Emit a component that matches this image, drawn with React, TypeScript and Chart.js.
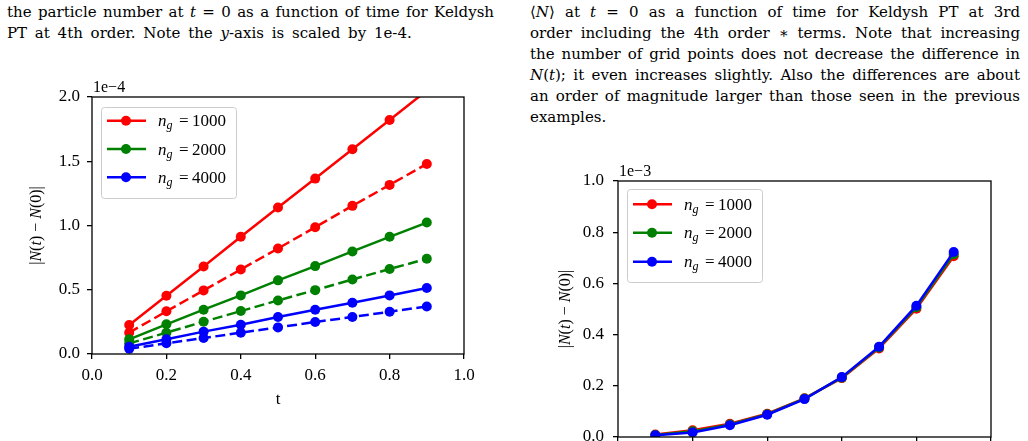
import React, { useEffect, useRef } from "react";
import { Chart, registerables } from "chart.js";

Chart.register(...registerables);

// ---------- data ----------
const tValues = [0.1, 0.2, 0.3, 0.4, 0.5, 0.6, 0.7, 0.8, 0.9];
const xTicks = [0, 0.2, 0.4, 0.6, 0.8, 1.0];
const leftYTicks = [0, 0.5, 1.0, 1.5, 2.0];
const rightYTicks = [0, 0.2, 0.4, 0.6, 0.8, 1.0];
const legendLabels = ["1000", "2000", "4000"];

// left chart, values in units of 1e-4
const redSolidLeft = [0.225, 0.453, 0.681, 0.912, 1.14, 1.365, 1.593, 1.821, 2.05];
const redDashedLeft = [0.166, 0.332, 0.495, 0.658, 0.821, 0.987, 1.153, 1.316, 1.479];
const greenSolidLeft = [0.114, 0.231, 0.345, 0.456, 0.573, 0.684, 0.798, 0.912, 1.023];
const greenDashedLeft = [0.083, 0.166, 0.251, 0.334, 0.417, 0.497, 0.58, 0.661, 0.741];
const blueSolidLeft = [0.057, 0.114, 0.174, 0.228, 0.288, 0.345, 0.399, 0.456, 0.513];
const blueDashedLeft = [0.041, 0.083, 0.124, 0.166, 0.207, 0.249, 0.288, 0.329, 0.37];

// right chart, values in units of 1e-3
const redRight = [0.01, 0.026, 0.052, 0.091, 0.151, 0.23, 0.346, 0.501, 0.706];
const greenRight = [0.008, 0.022, 0.049, 0.089, 0.15, 0.232, 0.35, 0.507, 0.714];
const blueRight = [0.0065, 0.018, 0.046, 0.087, 0.148, 0.234, 0.353, 0.513, 0.723];

const RED = "#ff0000";
const GREEN = "#008000";
const BLUE = "#0000ff";
const COLORS = [RED, GREEN, BLUE];

const FONT = '"Liberation Serif", "Times New Roman", serif';

// ---------- helpers ----------
type Seg = { t: string; i?: boolean; s?: number; dy?: number; x?: number };

function fontStr(size: number, italic = false) {
  return `${italic ? "italic " : ""}${size}px ${FONT}`;
}

function drawSegs(ctx: CanvasRenderingContext2D, segs: Seg[], x: number, y: number, base: number, align: "left" | "center") {
  const widths = segs.map((s) => {
    ctx.font = fontStr(s.s ?? base, !!s.i);
    return ctx.measureText(s.t).width;
  });
  const total = widths.reduce((a, b) => a + b, 0);
  let cx = align === "center" ? x - total / 2 : x;
  ctx.textAlign = "left";
  ctx.textBaseline = "alphabetic";
  segs.forEach((s, k) => {
    ctx.font = fontStr(s.s ?? base, !!s.i);
    const px = s.x !== undefined ? x + s.x : cx;
    ctx.fillText(s.t, px, y + (s.dy ?? 0));
    cx = px + widths[k];
  });
}

const yLabelSegs: Seg[] = [
  { t: "|" },
  { t: "N", i: true },
  { t: "(" },
  { t: "t", i: true },
  { t: ")" },
  { t: " \u2212 " },
  { t: "N", i: true },
  { t: "(0)|" },
];

const decorPlugin = {
  id: "decor",
  afterDraw(chart: any, _args: any, opts: any) {
    const { ctx, chartArea: a } = chart;
    ctx.save();
    // frame (all four spines)
    ctx.strokeStyle = "#000";
    ctx.lineWidth = 1.3;
    ctx.strokeRect(a.left, a.top, a.right - a.left, a.bottom - a.top);

    // offset text
    ctx.fillStyle = "#000";
    drawSegs(ctx, [{ t: opts.offsetText }], a.left + 1, a.top - 5.5, 16, "left");

    // y label
    ctx.save();
    ctx.translate(opts.yLabelX, (a.top + a.bottom) / 2);
    ctx.rotate(-Math.PI / 2);
    drawSegs(ctx, yLabelSegs, 0, 0, 16, "center");
    ctx.restore();

    // legend
    const L = opts.legend;
    const bx = a.left + L.dx;
    const by = a.top + L.dy;
    ctx.beginPath();
    (ctx as any).roundRect(bx + 0.5, by + 0.5, L.w, L.h, 3);
    ctx.fillStyle = "rgba(255,255,255,0.8)";
    ctx.fill();
    ctx.strokeStyle = "#cccccc";
    ctx.lineWidth = 1;
    ctx.stroke();
    L.labels.forEach((lab: string, k: number) => {
      const ry = by + L.rows[k];
      const col = COLORS[k];
      ctx.strokeStyle = col;
      ctx.lineWidth = 2.5;
      ctx.setLineDash([]);
      ctx.beginPath();
      ctx.moveTo(bx + 6, ry);
      ctx.lineTo(bx + 45, ry);
      ctx.stroke();
      ctx.fillStyle = col;
      ctx.beginPath();
      ctx.arc(bx + 25, ry, 5, 0, Math.PI * 2);
      ctx.fill();
      ctx.fillStyle = "#000";
      drawSegs(
        ctx,
        [
          { t: "n", i: true, s: 17, x: 0 },
          { t: "g", i: true, s: 12, dy: 3, x: 8.5 },
          { t: "=", s: 17, x: 21 },
          { t: lab, s: 17, x: 34 },
        ],
        bx + 57,
        ry + 5.5,
        17,
        "left"
      );
    });
    ctx.restore();
  },
};

function pts(arr: number[]) {
  return tValues.map((t, i) => ({ x: t, y: arr[i] }));
}

function ds(arr: number[], color: string, dashed: boolean, order: number) {
  return {
    data: pts(arr),
    borderColor: color,
    backgroundColor: color,
    borderWidth: 2.5,
    borderDash: dashed ? [10, 4.5] : [],
    pointRadius: 5,
    pointBorderWidth: 0,
    pointBackgroundColor: color,
    pointHoverRadius: 5,
    tension: 0,
    fill: false,
    clip: 0,
    order,
  };
}

function axisCommon(ticksArr: number[], min: number, max: number, size: number, pad: number, isX: boolean, title?: any) {
  return {
    type: "linear",
    min,
    max,
    afterBuildTicks: (ax: any) => {
      ax.ticks = ticksArr.map((v) => ({ value: v }));
    },
    afterFit: (ax: any) => {
      if (isX) ax.height = size;
      else ax.width = size;
    },
    grid: { drawOnChartArea: false, drawTicks: true, tickLength: 5, color: "#000", lineWidth: 1.3 },
    border: { display: false },
    ticks: {
      color: "#000",
      font: { size: 17, family: FONT },
      padding: pad,
      autoSkip: false,
      maxRotation: 0,
      callback: (v: any) => Number(v).toFixed(1),
    },
    title: title ?? { display: false },
  };
}

function makeConfig(datasets: any[], yTicks: number[], yMax: number, yWidth: number, yPad: number, xHeight: number, xTitlePad: number, padding: any, decor: any) {
  return {
    type: "line",
    data: { datasets },
    options: {
      animation: false,
      responsive: false,
      devicePixelRatio: 1,
      events: [],
      layout: { padding },
      plugins: {
        legend: { display: false },
        tooltip: { enabled: false },
        decor,
      },
      scales: {
        x: axisCommon(xTicks, 0, 1, xHeight, 6, true, {
          display: true,
          text: "t",
          color: "#000",
          font: { size: 17, family: FONT },
          padding: { top: 0, bottom: xTitlePad },
        }),
        y: axisCommon(yTicks, 0, yMax, yWidth, yPad, false),
      },
    },
    plugins: [decorPlugin],
  } as any;
}

function ChartCanvas({ config, width, height, left, top }: any) {
  const ref = useRef<HTMLCanvasElement | null>(null);
  useEffect(() => {
    if (!ref.current) return;
    const chart = new Chart(ref.current, config);
    let alive = true;
    const fs: any = (document as any).fonts;
    if (fs && fs.load) {
      Promise.all([
        fs.load('17px "Liberation Serif"'),
        fs.load('italic 17px "Liberation Serif"'),
      ])
        .then(() => {
          if (alive) chart.update();
        })
        .catch(() => {});
    }
    return () => {
      alive = false;
      chart.destroy();
    };
  }, []);
  return (
    <div style={{ position: "absolute", left, top, width, height }}>
      <canvas ref={ref} width={width} height={height} style={{ width, height, display: "block" }} />
    </div>
  );
}

const leftConfig = makeConfig(
  [
    ds(redSolidLeft, RED, false, 6),
    ds(redDashedLeft, RED, true, 5),
    ds(greenSolidLeft, GREEN, false, 4),
    ds(greenDashedLeft, GREEN, true, 3),
    ds(blueSolidLeft, BLUE, false, 2),
    ds(blueDashedLeft, BLUE, true, 1),
  ],
  leftYTicks,
  2,
  92,
  7,
  87,
  31,
  { left: 0, top: 37, right: 56, bottom: 0 },
  {
    offsetText: "1e\u22124",
    yLabelX: 41,
    legend: { dx: 9, dy: 10, w: 135, h: 91, rows: [13.7, 42, 70.3], labels: legendLabels },
  }
);

const rightConfig = makeConfig(
  [ds(redRight, RED, false, 3), ds(greenRight, GREEN, false, 2), ds(blueRight, BLUE, false, 1)],
  rightYTicks,
  1,
  98,
  9,
  63,
  20,
  { left: 0, top: 41, right: 37, bottom: 0 },
  {
    offsetText: "1e\u22123",
    yLabelX: 50,
    legend: { dx: 9, dy: 8, w: 135, h: 93, rows: [15.3, 43.7, 72.7], labels: legendLabels },
  }
);

const colText: React.CSSProperties = {
  position: "absolute",
  fontFamily: '"DejaVu Serif", serif',
  fontSize: 15,
  lineHeight: "21px",
  color: "#000",
};
const just: React.CSSProperties = { textAlign: "justify", textAlignLast: "justify" };

export default function App() {
  return (
    <div style={{ position: "fixed", left: 0, top: 0, width: 1028, height: 441, overflow: "hidden", background: "#fff" }}>
      <div style={{ ...colText, left: 7, top: 2, width: 487 }}>
        <div style={just}>
          the particle number at <i>t</i> = 0 as a function of time for Keldysh
        </div>
        <div style={{ wordSpacing: 3 }}>
          PT at 4th order. Note the <i>y</i>-axis is scaled by 1e-4.
        </div>
      </div>
      <div style={{ ...colText, left: 530, top: 2, width: 490 }}>
        <div style={just}>
          ⟨<i>N</i>⟩ at <i>t</i> = 0 as a function of time for Keldysh PT at 3rd
        </div>
        <div style={just}>order including the 4th order ∗ terms. Note that increasing</div>
        <div style={just}>the number of grid points does not decrease the difference in</div>
        <div style={just}>
          <i>N</i>(<i>t</i>); it even increases slightly. Also the differences are about
        </div>
        <div style={just}>an order of magnitude larger than those seen in the previous</div>
        <div>examples.</div>
      </div>
      <ChartCanvas config={leftConfig} width={520} height={381} left={0} top={60} />
      <ChartCanvas config={rightConfig} width={508} height={360} left={520} top={140} />
    </div>
  );
}
